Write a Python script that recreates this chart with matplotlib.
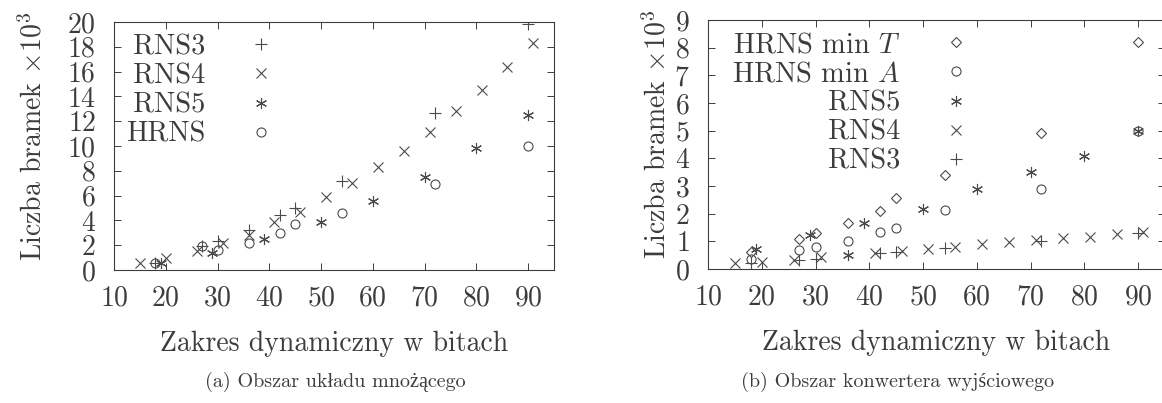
import numpy as np
import matplotlib
matplotlib.use("Agg")
import matplotlib.pyplot as plt

plt.rcParams['font.family'] = ['cmr10', 'Liberation Serif']
plt.rcParams['mathtext.fontset'] = 'cm'
plt.rcParams['axes.formatter.use_mathtext'] = True

# (a) obszar ukladu mnozacego, liczba bramek x10^3
a_rns3_x = [18, 27, 30, 36, 42, 45, 54, 72, 90]
a_rns3_y = [0.55, 1.95, 2.3, 3.2, 4.4, 5.0, 7.2, 12.7, 19.8]
a_rns4_x = [15, 20, 26, 31, 36, 41, 46, 51, 56, 61, 66, 71, 76, 81, 86, 91]
a_rns4_y = [0.55, 1.0, 1.5, 2.2, 2.8, 3.85, 4.7, 5.85, 7.0, 8.3, 9.6, 11.1, 12.8, 14.5, 16.4, 18.3]
a_rns5_x = [19, 29, 39, 50, 60, 70, 80, 90]
a_rns5_y = [0.6, 1.4, 2.5, 3.9, 5.6, 7.5, 9.8, 12.5]
a_hrns_x = [18, 27, 30, 36, 42, 45, 54, 72, 90]
a_hrns_y = [0.55, 1.95, 1.65, 2.2, 3.0, 3.7, 4.6, 6.9, 10.0]

# (b) obszar konwertera wyjsciowego
b_mint_x = [18, 27, 30, 36, 42, 45, 54, 72, 90]
b_mint_y = [0.6, 1.08, 1.29, 1.68, 2.08, 2.56, 3.4, 4.9, 8.2]
b_mina_x = [18, 27, 30, 36, 42, 45, 54, 72, 90]
b_mina_y = [0.36, 0.69, 0.81, 1.01, 1.33, 1.47, 2.14, 2.9, 5.0]
b_rns5_x = [19, 29, 36, 39, 50, 60, 70, 80, 90]
b_rns5_y = [0.72, 1.23, 0.51, 1.68, 2.17, 2.9, 3.5, 4.1, 5.0]
b_rns4_x = [15, 20, 26, 31, 41, 46, 51, 56, 61, 66, 71, 76, 81, 86, 91]
b_rns4_y = [0.21, 0.27, 0.34, 0.43, 0.57, 0.65, 0.72, 0.81, 0.89, 0.97, 1.05, 1.13, 1.17, 1.27, 1.35]
b_rns3_x = [18, 27, 30, 42, 45, 54, 72, 90]
b_rns3_y = [0.22, 0.33, 0.35, 0.59, 0.63, 0.75, 1.02, 1.29]

ink = '#3c3c3c'
mk = '#4a4a4a'
star = (6, 2, 0)

fig = plt.figure(figsize=(11.62, 4.03), dpi=100)
ax1 = fig.add_axes([114/1162, 1-270/403, 440/1162, 248/403])
ax2 = fig.add_axes([708/1162, 1-269/403, 457/1162, 249/403])

def style(ax, ymax):
    ax.set_xlim(10, 95)
    ax.set_ylim(0, ymax)
    ax.set_xticks(range(10, 100, 10))
    for s in ax.spines.values():
        s.set_color(ink)
        s.set_linewidth(0.8)
    ax.tick_params(direction='in', top=True, right=True, length=5, width=0.7,
                   colors=ink, labelsize=20)
    ax.tick_params(axis='x', pad=11)
    ax.tick_params(axis='y', pad=13)
    ax.set_xlabel('Zakres dynamiczny w bitach', fontsize=20, color=ink, labelpad=14)
    ax.set_ylabel(r'Liczba bramek $\times 10^3$', fontsize=20, color=ink)

def legend(ax, x0):
    leg = ax.legend(loc='upper left', bbox_to_anchor=(x0, 1.0), frameon=False,
                    markerfirst=False, fontsize=20.5, labelspacing=0.1,
                    handletextpad=0.95, borderpad=0.42, borderaxespad=0)
    for t in leg.get_texts():
        t.set_color(ink)

kw = dict(linestyle='none', color=mk, markeredgewidth=0.8)
ax1.plot(a_rns3_x, a_rns3_y, marker='+', markersize=8, label='RNS3', **kw)
ax1.plot(a_rns4_x, a_rns4_y, marker='x', markersize=7, label='RNS4', **kw)
ax1.plot(a_rns5_x, a_rns5_y, marker=star, markersize=8, label='RNS5', **kw)
ax1.plot(a_hrns_x, a_hrns_y, marker='o', markersize=6.5, mfc='none', label='HRNS', **kw)
style(ax1, 20)
ax1.set_yticks(range(0, 21, 2))
ax1.yaxis.set_label_coords(-0.152, 0.54)
legend(ax1, 0.0)

ax2.plot(b_mint_x, b_mint_y, marker='D', markersize=5, mfc='none', label='HRNS min $T$', **kw)
ax2.plot(b_mina_x, b_mina_y, marker='o', markersize=6.5, mfc='none', label='HRNS min $A$', **kw)
ax2.plot(b_rns5_x, b_rns5_y, marker=star, markersize=8, label='RNS5', **kw)
ax2.plot(b_rns4_x, b_rns4_y, marker='x', markersize=7, label='RNS4', **kw)
ax2.plot(b_rns3_x, b_rns3_y, marker='+', markersize=8, label='RNS3', **kw)
style(ax2, 9)
ax2.set_yticks(range(0, 10))
ax2.yaxis.set_label_coords(-0.079, 0.54)
legend(ax2, 0.027)

fig.text(335/1162, 1-382/403, '(a) Obszar układu mnożącego', ha='center', va='center',
         fontsize=14.5, color=ink)
fig.text(898/1162, 1-382/403, '(b) Obszar konwertera wyjściowego', ha='center', va='center',
         fontsize=14.5, color=ink)

fig.savefig('out.png', dpi=100, facecolor='white')
